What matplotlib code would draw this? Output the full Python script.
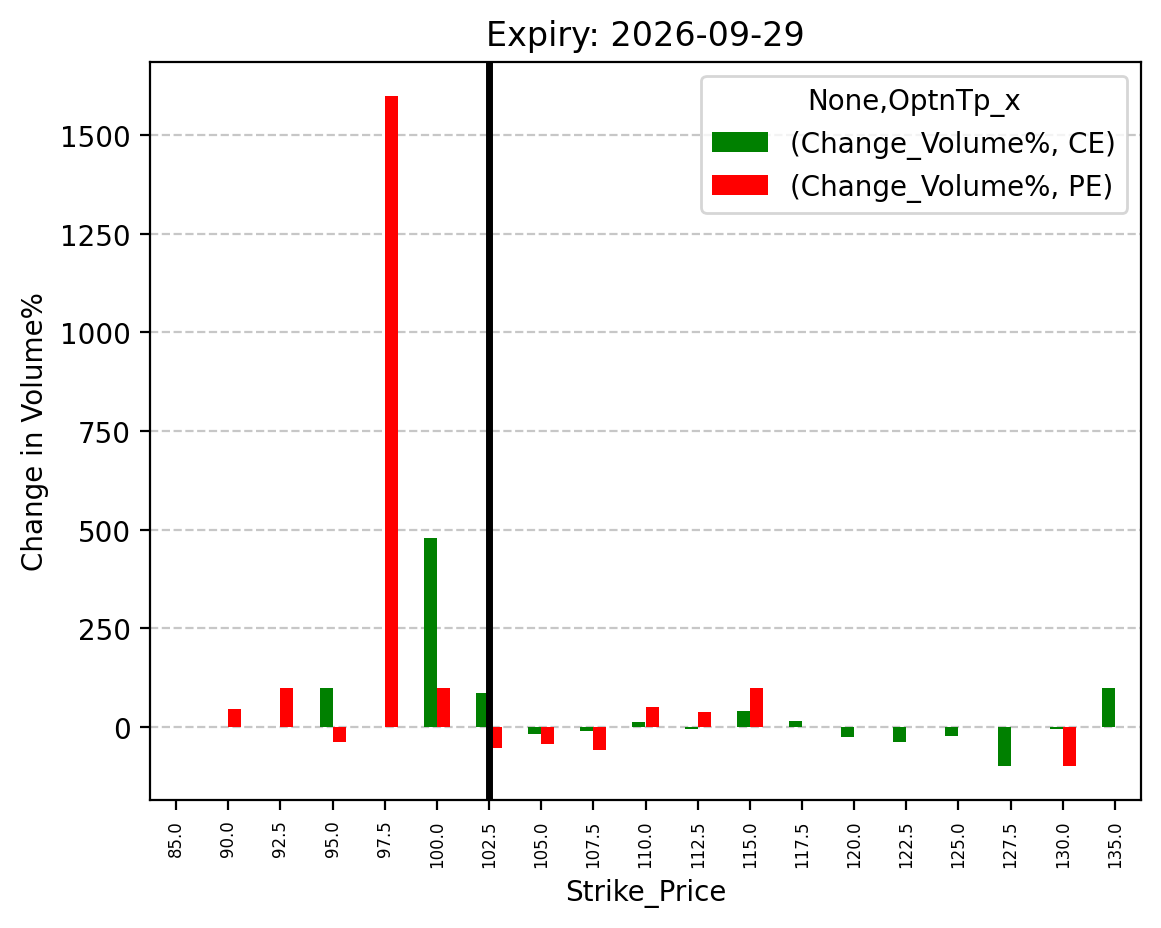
import numpy as np
import matplotlib
matplotlib.use("Agg")
import matplotlib.pyplot as plt

strikes = [85.0, 90.0, 92.5, 95.0, 97.5, 100.0, 102.5, 105.0, 107.5, 110.0,
           112.5, 115.0, 117.5, 120.0, 122.5, 125.0, 127.5, 130.0, 135.0]
ce_values = [np.nan, np.nan, np.nan, 100, np.nan, 480, 85, -18, -11, 12,
             -5, 40, 14, -26, -38, -23, -100, -5, 100]
pe_values = [np.nan, 45, 100, -38, 1600, 100, -54, -44, -59, 50,
             37, 100, np.nan, np.nan, np.nan, np.nan, np.nan, -100, np.nan]
spot_index = 6

fig = plt.figure(figsize=(1161/200, 929/200), dpi=200)
ax = fig.add_axes([150/1161, (929-801)/929, (1141-150)/1161, (801-63)/929])

x = np.arange(len(strikes))
w = 0.25
ax.bar(x - w/2, ce_values, width=w, color='green', label='(Change_Volume%, CE)')
ax.bar(x + w/2, pe_values, width=w, color='red', label='(Change_Volume%, PE)')
ax.set_xlim(-0.5, len(strikes) - 0.5)
ax.set_xticks(x)
ax.set_xticklabels([f"{s:.1f}" for s in strikes], rotation=90, fontsize=6)
ax.axvline(spot_index, color='black', linewidth=2.5)
ax.grid(axis='y', linestyle='--', alpha=0.7)
ax.set_axisbelow(True)
ax.set_xlabel('Strike_Price')
ax.set_ylabel('Change in Volume%')
ax.set_title('Expiry: 2026-09-29')
ax.legend(title='None,OptnTp_x', loc='upper right')

fig.savefig('out.png', dpi=200)
